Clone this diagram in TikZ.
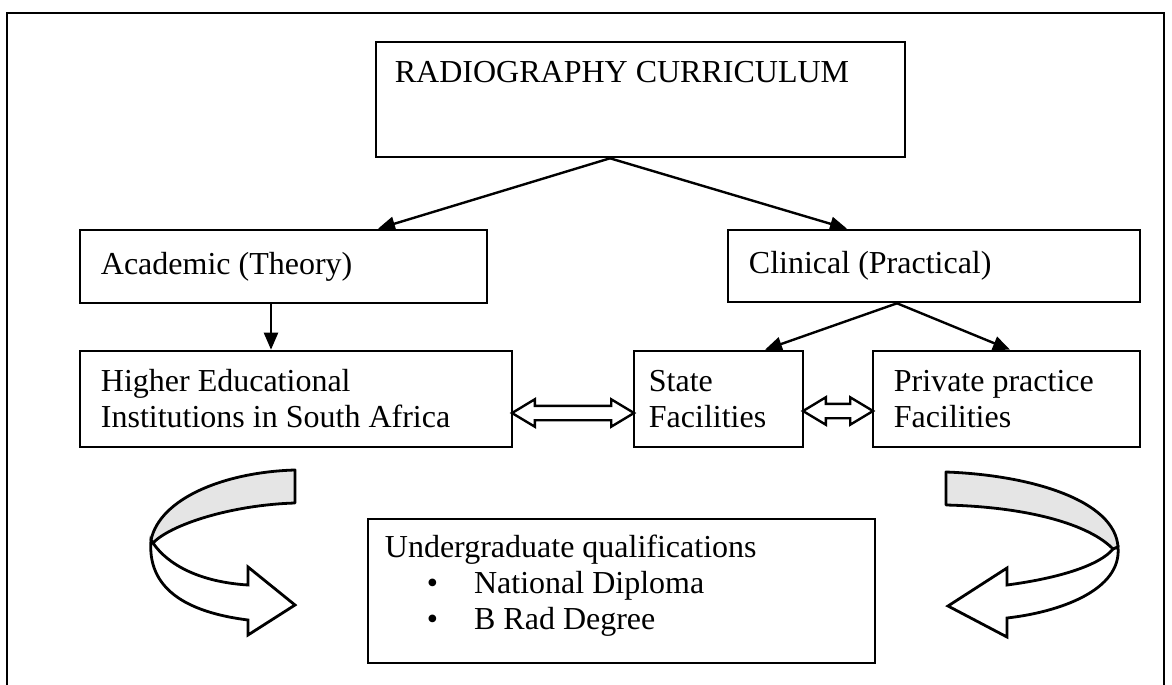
\documentclass[tikz,border=0pt]{standalone}
\usepackage{fontspec}
\setmainfont{Liberation Serif}
\usetikzlibrary{arrows.meta,shapes.arrows,calc}
\begin{document}
\begin{tikzpicture}[x=1pt,y=-1pt,
  box/.style={draw, line width=2.6pt, inner sep=0pt},
  txt/.style={font=\fontsize{32}{36}\selectfont, inner sep=0pt, align=left},
  flow/.style={line width=2.4pt, -{Triangle[length=17pt,width=14pt]}},
  twoway/.style={draw, line width=2.4pt, fill=white, double arrow, inner sep=6pt,
    double arrow head extend=6.5pt, double arrow tip angle=62, double arrow head indent=0pt},
  ribbonback/.style={draw, line width=2.8pt, fill=black!10, line join=round},
  ribbonfront/.style={draw, line width=2.8pt, fill=white, line join=miter}]
\useasboundingbox (0,0) rectangle (1172,685);

% outer frame (open at the bottom)
\draw[line width=2.8pt] (7,700) -- (7,13) -- (1164,13) -- (1164,700);

% boxes
\node[box, minimum width=529, minimum height=115] (top) at (640.5,99.5) {};
\node[box, minimum width=407, minimum height=73] (acad) at (283.5,266.5) {};
\node[box, minimum width=412, minimum height=72] (clin) at (934,266) {};
\node[box, minimum width=432, minimum height=96] (high) at (296,399) {};
\node[box, minimum width=169, minimum height=96] (state) at (718.5,399) {};
\node[box, minimum width=267, minimum height=96] (priv) at (1006.5,399) {};
\node[box, minimum width=507, minimum height=144] (under) at (621.5,591) {};

% box texts
\node[txt, anchor=west] (toptxt) at ([shift={(20,-27)}]top.west) {RADIOGRAPHY CURRICULUM};
\node[txt, anchor=west] (acadtxt) at ([xshift=22]acad.west) {Academic (Theory)};
\node[txt, anchor=west] (clintxt) at ([xshift=22]clin.west) {Clinical (Practical)};
\node[txt, anchor=west] (hightxt) at ([xshift=22]high.west) {Higher Educational\\Institutions in South Africa};
\node[txt, anchor=west] (statetxt) at ([xshift=16]state.west) {State\\Facilities};
\node[txt, anchor=west] (privtxt) at ([xshift=22]priv.west) {Private practice\\Facilities};
\node[txt, anchor=north west] (undertxt)
  at ([shift={(18,17)}]under.north west)
  {Undergraduate qualifications\\
   \hspace*{42pt}•\hspace*{36pt}National Diploma\\
   \hspace*{42pt}•\hspace*{36pt}B Rad Degree};

% connectors
\draw[flow] ([xshift=-30.5]top.south) -- ([xshift=94.5]acad.north);
\draw[flow] ([xshift=-30.5]top.south) -- ([xshift=-87]clin.north);
\draw[flow] ([xshift=-12.5]acad.south) -- ([xshift=-25]high.north);
\draw[flow] ([xshift=-37]clin.south) -- ([xshift=46.5]state.north);
\draw[flow] ([xshift=-37]clin.south) -- ([xshift=3.5]priv.north);

% two-way block arrows
\node[twoway, minimum height=122] (dbl1) at ($(high.east)!0.5!(state.west)+(0,14)$) {};
\node[twoway, minimum height=70] (dbl2) at ($(state.east)!0.5!(priv.west)+(0,12)$) {};

% left curled arrow
\draw[ribbonback] (295,470) .. controls (225,472) and (160,498) .. (151,540)
  -- (153,543) .. controls (170,525) and (230,505) .. (295,503) -- cycle;
\draw[ribbonfront] (151,540) .. controls (147,588) and (185,612) .. (248,620)
  -- (248,635) -- (295,605) -- (248,567) -- (248,585)
  .. controls (200,582) and (168,565) .. (153,543) -- cycle;

% right curled arrow
\draw[ribbonback] (946,472) .. controls (1030,475) and (1115,500) .. (1118,547)
  -- (1113,549) .. controls (1090,525) and (1030,507) .. (946,505) -- cycle;
\draw[ribbonfront] (1118,547) .. controls (1122,590) and (1060,612) .. (1007,618)
  -- (1007,637) -- (948,606) -- (1007,568) -- (1007,585)
  .. controls (1060,578) and (1100,565) .. (1113,549) -- cycle;
\end{tikzpicture}
\end{document}
